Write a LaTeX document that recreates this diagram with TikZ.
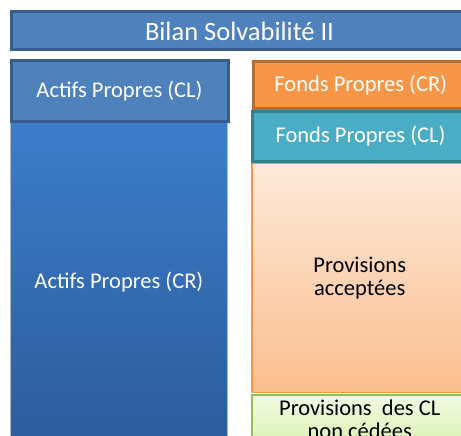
\documentclass[tikz,border=0pt]{standalone}
\usepackage{fontspec}
\setmainfont{Carlito}

\definecolor{bleu}{RGB}{79,129,189}
\definecolor{bleufonce}{RGB}{56,93,138}
\definecolor{orange}{RGB}{247,150,70}
\definecolor{orangefonce}{RGB}{182,109,49}
\definecolor{turquoise}{RGB}{75,172,198}
\definecolor{turquoisefonce}{RGB}{53,125,145}
\definecolor{vert}{RGB}{155,187,89}

\begin{document}
\begin{tikzpicture}[x=1pt,y=-1pt,
    bloc/.style={anchor=north west, inner sep=0pt, align=center, font=\fontsize{22.5}{23}\selectfont},
    plein/.style={bloc, draw=#1fonce, line width=3pt, fill=#1, text=white}]

    % Cadre de l'image (coupe a droite et en bas)
    \useasboundingbox (0,0) rectangle (461,436);
    \clip (0,0) rectangle (461,436);

    % Titre
    \node[plein=bleu, font=\fontsize{26.5}{28}\selectfont, minimum width=457pt, minimum height=38pt] (titre) at (9.5,10.5) {Bilan Solvabilité II};

    % Actif
    \node[bloc, draw={rgb,255:red,170;green,185;blue,205}, line width=0.8pt, top color={rgb,255:red,60;green,125;blue,202}, bottom color={rgb,255:red,44;green,92;blue,156}, text=white, minimum width=217pt, minimum height=322pt] (actifcr) at (10,121) {Actifs Propres (CR)}; % gros bloc degrade
    \node[plein=bleu, minimum width=217pt, minimum height=60.5pt] (actifcl) at (9.5,59.5) {Actifs Propres (CL)};

    % Passif
    \node[plein=orange, minimum width=215.5pt, minimum height=46.5pt] (fondscr) at (251.5,60.5) {Fonds Propres (CR)};
    \node[plein=turquoise, minimum width=216pt, minimum height=50pt] (fondscl) at (251,110) {Fonds Propres (CL)};
    \node[bloc, draw=orange, line width=1.5pt, top color={rgb,255:red,253;green,234;blue,218}, bottom color={rgb,255:red,251;green,190;blue,142}, minimum width=216pt, minimum height=229pt] (provacc) at (251,162.5) {Provisions\\acceptées};
    \node[bloc, draw=vert, line width=1.5pt, top color={rgb,255:red,242;green,250;blue,226}, bottom color={rgb,255:red,218;green,242;blue,180}, minimum width=216pt, minimum height=50pt] (provcl) at (251,394) {Provisions~ des CL\\non cédées};
\end{tikzpicture}
\end{document}
